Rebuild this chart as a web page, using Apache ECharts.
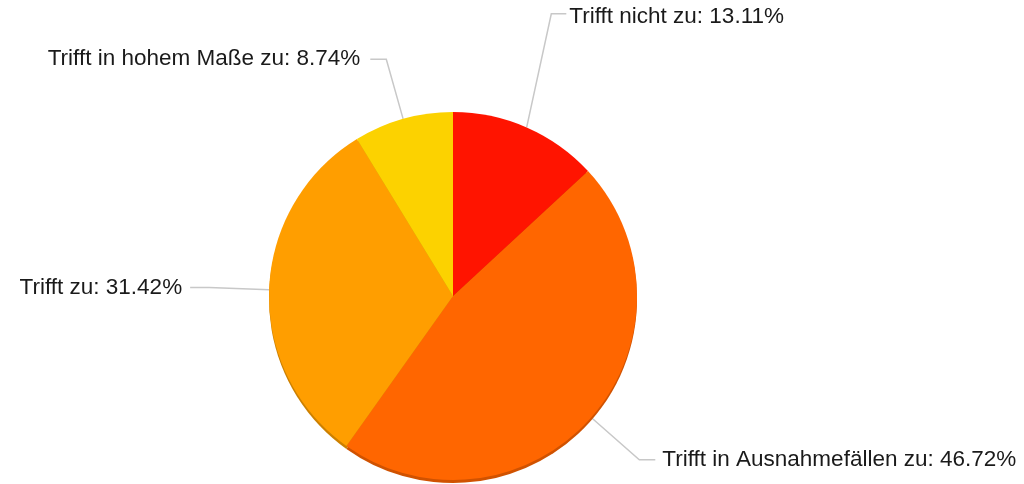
<!DOCTYPE html>
<html>
<head>
<meta charset="utf-8">
<title>Pie</title>
<script src="https://cdn.jsdelivr.net/npm/echarts@6/dist/echarts.min.js"></script>
<style>
  html, body { margin: 0; padding: 0; background: #fff; }
  #chart { width: 1024px; height: 484px; }
</style>
</head>
<body>
<div id="chart"></div>
<script>
  // answer categories and their shares (%)
  var categories = ['Trifft nicht zu', 'Trifft in Ausnahmefällen zu', 'Trifft zu', 'Trifft in hohem Maße zu']
  var shares = [13.11, 46.72, 31.42, 8.74]
  var colors = ['#ff1400', '#ff6600', '#ff9e00', '#fcd200']
  var edgeColors = ['#c81000', '#d05200', '#cc8000', '#c8a600']

  // leader line lengths per slice
  var lineLen = [124, 64, 60, 62]
  var lineLen2 = [15, 16, 19, 16]
  var labelGap = [3, 7, 8, 10]

  var chart = echarts.init(document.getElementById('chart'))

  var mainData = categories.map(function (name, i) {
    return {
      name: name,
      value: shares[i],
      itemStyle: { color: colors[i] },
      label: { distanceToLabelLine: labelGap[i] },
      labelLine: { length: lineLen[i], length2: lineLen2[i] }
    }
  })
  var edgeData = categories.map(function (name, i) {
    return { name: name, value: shares[i], itemStyle: { color: edgeColors[i] } }
  })

  var option = {
    animation: false,
    series: [
      {
        // darker rim under the pie
        type: 'pie',
        silent: true,
        center: [453, 299],
        radius: 184,
        startAngle: 90,
        label: { show: false },
        labelLine: { show: false },
        itemStyle: { borderWidth: 0 },
        data: edgeData
      },
      {
        type: 'pie',
        center: [453, 296],
        radius: 184,
        startAngle: 90,
        avoidLabelOverlap: false,
        itemStyle: { borderWidth: 0 },
        label: {
          formatter: function (p) { return p.name + ': ' + p.value.toFixed(2) + '%' },
          fontFamily: 'Liberation Sans',
          fontSize: 22.5,
          color: '#1a1a1a',
          padding: [5, 0, 0, 0]
        },
        labelLine: {
          smooth: false,
          lineStyle: { color: '#c8c8c8', width: 1.5 }
        },
        labelLayout: function (params) {
          // first label sits a bit further left than the radial line would put it
          if (params.dataIndex !== 0 || !params.labelLinePoints) return {}
          var shift = -25
          var pts = params.labelLinePoints
          return {
            dx: shift,
            dy: 3,
            labelLinePoints: [
              pts[0],
              [pts[1][0] + shift, pts[1][1]],
              [pts[2][0] + shift, pts[2][1]]
            ]
          }
        },
        emphasis: { scale: false },
        data: mainData
      }
    ]
  }

  chart.setOption(option)
  window.addEventListener('resize', function () {
    chart.resize()
  })
</script>
</body>
</html>
